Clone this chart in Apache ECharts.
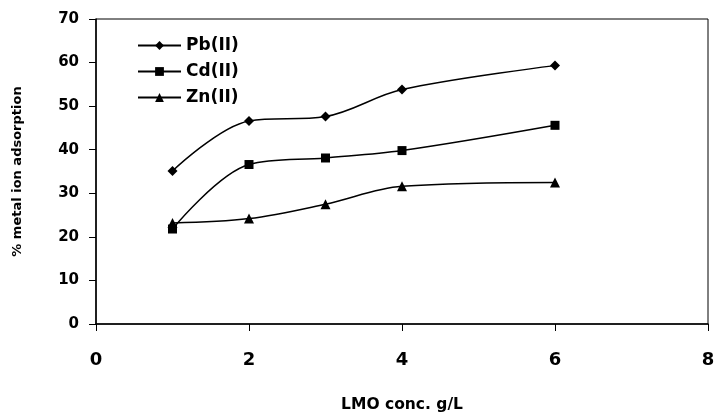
<!DOCTYPE html>
<html>
<head>
<meta charset="utf-8">
<script src="https://cdn.jsdelivr.net/npm/echarts@6/dist/echarts.min.js"></script>
<style>html,body{margin:0;padding:0;background:#fff}#c{width:717px;height:412px}</style>
</head>
<body>
<div id="c"></div>
<script>
const xValues = [1, 2, 3, 4, 6];
const pb = [35.1, 46.6, 47.6, 53.8, 59.3];
const cd = [21.8, 36.6, 38.1, 39.8, 45.6];
const zn = [23.2, 24.2, 27.5, 31.6, 32.5];
const seriesNames = ['Pb(II)', 'Cd(II)', 'Zn(II)'];
const xTitle = 'LMO conc. g/L';
const yTitle = '% metal ion adsorption';

const F = 'DejaVu Sans';
const pairs = arr => xValues.map((x, i) => [x, arr[i]]);
const mk = (name, data, symbol, size) => ({
  name, type: 'line', data: pairs(data), smooth: 0.35,
  symbol, symbolSize: size, showSymbol: true,
  lineStyle: { color: '#000', width: 1.5 },
  itemStyle: { color: '#000' },
  emphasis: { disabled: true }, animation: false
});
const chart = echarts.init(document.getElementById('c'));
chart.setOption({
  animation: false,
  backgroundColor: '#fff',
  grid: { left: 96, right: 9, top: 19, bottom: 88, show: true, borderColor: '#000', borderWidth: 1,
          containLabel: false, outerBoundsMode: 'none' },
  legend: {
    orient: 'vertical', left: 132, top: 32, itemGap: 9, itemWidth: 43, itemHeight: 11,
    textStyle: { fontFamily: F, fontWeight: 'bold', fontSize: 17, color: '#000' },
    data: seriesNames
  },
  xAxis: {
    type: 'value', min: 0, max: 8, interval: 2,
    name: xTitle, nameLocation: 'middle', nameGap: 73, nameMoveOverlap: false,
    nameTextStyle: { fontFamily: F, fontWeight: 'bold', fontSize: 15.5, color: '#000' },
    axisLine: { show: true, onZero: false, lineStyle: { color: '#000', width: 1.5 } },
    axisTick: { show: true, length: 7, lineStyle: { color: '#000' } },
    axisLabel: { fontFamily: F, fontWeight: 'bold', fontSize: 18, color: '#000', margin: 27 },
    splitLine: { show: false }
  },
  yAxis: {
    type: 'value', min: 0, max: 70, interval: 10,
    name: yTitle, nameLocation: 'middle', nameGap: 72, nameMoveOverlap: false,
    nameTextStyle: { fontFamily: F, fontWeight: 'bold', fontSize: 13, color: '#000' },
    axisLine: { show: true, lineStyle: { color: '#000', width: 1.5 } },
    axisTick: { show: true, length: 7, lineStyle: { color: '#000' } },
    axisLabel: { fontFamily: F, fontWeight: 'bold', fontSize: 15, color: '#000', margin: 17 },
    splitLine: { show: false }
  },
  series: [
    mk(seriesNames[0], pb, 'path://M0,-1L1,0L0,1L-1,0Z', 10),
    mk(seriesNames[1], cd, 'rect', 9),
    mk(seriesNames[2], zn, 'triangle', 10)
  ]
});
</script>
</body>
</html>
